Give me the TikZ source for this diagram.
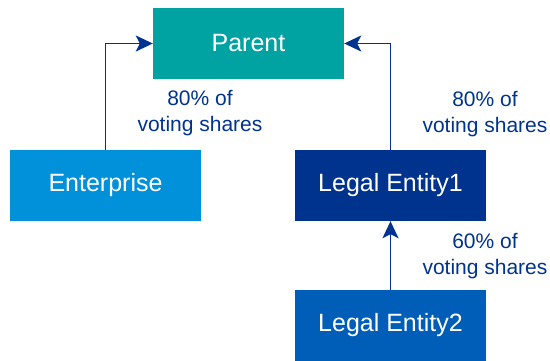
\documentclass[tikz,border=0pt]{standalone}
\usepackage{fontspec}
\setmainfont{Liberation Sans}
\usetikzlibrary{arrows.meta}
\definecolor{teal}{HTML}{00A3A1}
\definecolor{lightBlue}{HTML}{0091DA}
\definecolor{darkBlue}{HTML}{00338D}
\definecolor{midBlue}{HTML}{005EB8}
\begin{document}
\begin{tikzpicture}
[x=1pt,y=-1pt,
  entityBox/.style={shape=rectangle,minimum width=191pt,minimum height=71pt,
    inner sep=0pt,text=white,font=\fontsize{25}{29}\selectfont},%
  shareLabel/.style={align=center,text=darkBlue,font=\fontsize{21}{26}\selectfont},%
  ownLine/.style={line width=1.7pt,color=darkBlue,
    -{Stealth[length=17pt,width=16pt,inset=4pt]}}]
\useasboundingbox (0,0) rectangle (550,360);
%% draw the entities
\foreach \nodename/\x/\y/\col/\txt in {parent/248.5/43.5/teal/Parent,
  enterprise/105.5/185.5/lightBlue/Enterprise,
  entityOne/390.5/185.5/darkBlue/Legal Entity1,
  entityTwo/390.5/325.5/midBlue/Legal Entity2}
{
  \node (\nodename) at (\x,\y) [entityBox,fill=\col] {\txt};
}
%% draw the ownership lines
\draw[ownLine] (enterprise.north) |- (parent.west);
\draw[ownLine] (entityOne.north) |- (parent.east);
\draw[ownLine] (entityTwo.north) -- (entityOne.south);
%% share labels
\foreach \nodename/\x/\y/\pct in {leftShare/200/113/80, rightShare/485/114/80,
  lowerShare/485/256/60}
{
  \node (\nodename) at (\x,\y) [shareLabel] {\pct\% of\\voting shares};
}
\end{tikzpicture}
\end{document}
